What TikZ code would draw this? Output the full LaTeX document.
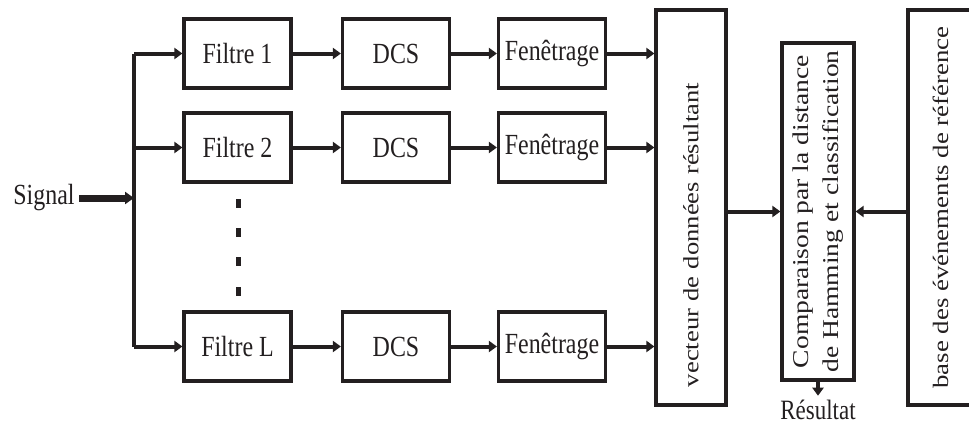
\documentclass[tikz,border=0pt]{standalone}
\usepackage{fontspec}
\setmainfont{Liberation Serif}
\newfontfamily\narrowserif[FakeStretch=0.82]{Liberation Serif}
\newfontfamily\wideserif[FakeStretch=1.22]{Liberation Serif}
\usetikzlibrary{arrows.meta,positioning}
\definecolor{ink}{RGB}{35,31,32}
\tikzset{
  blk/.style={draw=ink, line width=1.6pt, minimum width=53.5pt, minimum height=34.5pt,
    inner sep=0pt, text=ink, font=\narrowserif\fontsize{14.6}{16}\selectfont},
  tall/.style={draw=ink, line width=1.6pt, rotate=90, inner sep=0pt, text=ink,
    font=\wideserif\fontsize{10.9}{15}\selectfont},
  lnk/.style={ink, line width=2pt, -{Triangle[length=4pt,width=5.5pt]}},
  bus/.style={ink, line width=2pt},
  txt/.style={text=ink, font=\narrowserif\fontsize{14.6}{16}\selectfont, inner sep=2pt},
}

\begin{document}
\begin{tikzpicture}[x=0.5pt,y=-0.5pt]
  \useasboundingbox (0,0) rectangle (969,423);
  % three channels
  \node[blk] (f1) at (237.5,53.5) {Filtre 1};
  \node[blk] (d1) at (396,53.5) {DCS};
  \node[blk] (w1) at (552,53.5) {Fenêtrage};
  \node[blk] (f2) at (237.5,147.5) {Filtre 2};
  \node[blk] (d2) at (396,147.5) {DCS};
  \node[blk] (w2) at (552,147.5) {Fenêtrage};
  \node[blk] (fL) at (237.5,346.5) {Filtre L};
  \node[blk] (dL) at (396,346.5) {DCS};
  \node[blk] (wL) at (552,346.5) {Fenêtrage};
  % tall blocks
  \node[tall, minimum width=197.5pt, minimum height=35pt, text width=179.5pt, align=left]
    (vec) at (691,207.5) {vecteur de données résultant};
  \node[tall, minimum width=168.5pt, minimum height=36pt, align=center,
    font=\wideserif\fontsize{11.3}{15}\selectfont]
    (cmp) at (818,211.5) {Comparaison par la distance\\de Hamming et classification};
  \node[tall, minimum width=197.5pt, minimum height=33pt,
    font=\wideserif\fontsize{11}{15}\selectfont]
    (base) at (941,207.5) {base des événements de référence};
  \node[txt, anchor=east] (sig) at (79,198) {Signal};
  \node[txt, font=\narrowserif\fontsize{14}{16}\selectfont] (res) at (818,410) {Résultat};
  % input bus
  \coordinate (bT) at (134,53.5);
  \coordinate (b2) at (134,147.5);
  \coordinate (bB) at (134,346.5);
  \coordinate (bS) at (134,198);
  \draw[ink, line width=3.5pt, -{Triangle[length=4.5pt,width=6pt]}] (sig) -- (bS);
  \draw[bus] (bT) -- (bB);
  \draw[lnk] (bT) -- (f1);
  \draw[lnk] (b2) -- (f2);
  \draw[lnk] (bB) -- (fL);
  \draw[lnk] (f1) -- (d1);
  \draw[lnk] (d1) -- (w1);
  \draw[lnk] (f2) -- (d2);
  \draw[lnk] (d2) -- (w2);
  \draw[lnk] (fL) -- (dL);
  \draw[lnk] (dL) -- (wL);
  \draw[lnk] (w1.east) -- (w1.east -| vec.north);
  \draw[lnk] (w2.east) -- (w2.east -| vec.north);
  \draw[lnk] (wL.east) -- (wL.east -| vec.north);
  \draw[lnk] (vec.south |- cmp.north) -- (cmp.north);
  \draw[lnk] (base.north |- cmp.south) -- (cmp.south);
  \draw[lnk] (cmp.west) -- (res.north);
  % dots between channels
  \foreach \y in {203,232,261,291}
    \fill[ink] (236,\y-4.5) rectangle ++(5,9);
\end{tikzpicture}
\end{document}
